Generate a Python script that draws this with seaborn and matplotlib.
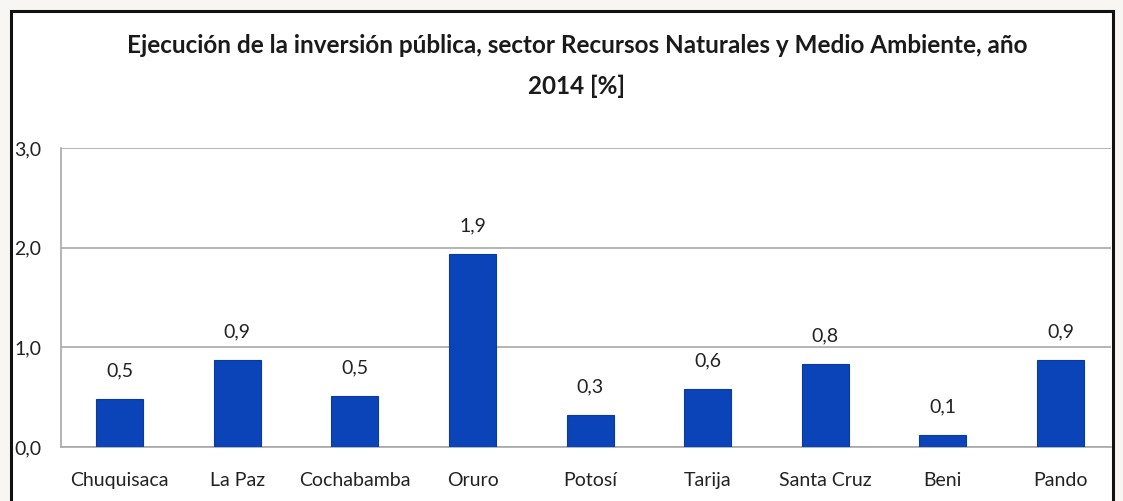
import matplotlib
matplotlib.use('Agg')
import matplotlib.pyplot as plt
import matplotlib.patches as patches
from matplotlib.ticker import FuncFormatter, FixedLocator
import seaborn as sns
import pandas as pd

# Data
departamentos = ['Chuquisaca', 'La Paz', 'Cochabamba', 'Oruro', 'Potosí',
                 'Tarija', 'Santa Cruz', 'Beni', 'Pando']
ejecucion = [0.48, 0.87, 0.51, 1.94, 0.32, 0.58, 0.83, 0.12, 0.87]
etiquetas = ['0,5', '0,9', '0,5', '1,9', '0,3', '0,6', '0,8', '0,1', '0,9']
titulo = ('Ejecución de la inversión pública, sector Recursos Naturales y Medio Ambiente, año\n'
          '2014 [%]')

sns.set_style('white')
plt.rcParams['font.family'] = ['Lato', 'DejaVu Sans']

W, H = 1123, 501
fig = plt.figure(figsize=(W / 100, H / 100), dpi=100, facecolor='#f7f6f2')

# white card with black frame
frame = patches.Rectangle((11 / W, -0.05), (1113 - 11) / W, (H - 11) / H + 0.05,
                          transform=fig.transFigure, facecolor='white',
                          edgecolor='#111111', linewidth=2.2, zorder=-10)
fig.patches.append(frame)

ax = fig.add_axes([61 / W, 1 - 447 / H, (1111 - 61) / W, (447 - 148) / H])
ax.set_facecolor('none')
ax.set_zorder(5)

df = pd.DataFrame({'Departamento': departamentos, 'Ejecucion': ejecucion})
sns.barplot(data=df, x='Departamento', y='Ejecucion', color='#0b44b8',
            width=0.4, saturation=1, edgecolor='#0a3a9e', linewidth=0.8, ax=ax, zorder=3)

for i, (v, lab) in enumerate(zip(ejecucion, etiquetas)):
    ax.annotate(lab, (i, v), xytext=(0, 14), textcoords='offset points',
                ha='center', va='bottom', fontsize=14, color='#222222')

ax.set_ylim(0, 3)
ax.set_xlim(-0.5, 8.43)
ax.yaxis.set_major_locator(FixedLocator([0, 1, 2, 3]))
ax.yaxis.set_major_formatter(FuncFormatter(lambda v, p: f'{v:.1f}'.replace('.', ',')))
ax.grid(axis='y', color='#a8a8a8', linewidth=1.2, zorder=0)
ax.set_axisbelow(True)

# category ticks between bars
ax.set_xticks(range(len(departamentos)))
ax.set_xticklabels(departamentos, fontsize=14, color='#222222')
ax.set_xticks([i - 0.5 for i in range(len(departamentos))], minor=True)
ax.tick_params(axis='x', which='major', length=0, pad=18)
ax.tick_params(axis='x', which='minor', length=5, color='#a8a8a8', width=1)
ax.tick_params(axis='y', length=5, color='#a8a8a8', width=1, labelsize=14,
               labelcolor='#222222', pad=9)
ax.set_xlabel('')
ax.set_ylabel('')

for s in ['top', 'right']:
    ax.spines[s].set_visible(False)
for s in ['left', 'bottom']:
    ax.spines[s].set_color('#a8a8a8')
    ax.spines[s].set_linewidth(1.2)

fig.text(577 / W, 1 - 66 / H, titulo, ha='center', va='center', fontsize=17.5,
         fontweight='bold', color='#1a1a1a', linespacing=1.9)

fig.savefig('out.png', dpi=100, facecolor=fig.get_facecolor())
